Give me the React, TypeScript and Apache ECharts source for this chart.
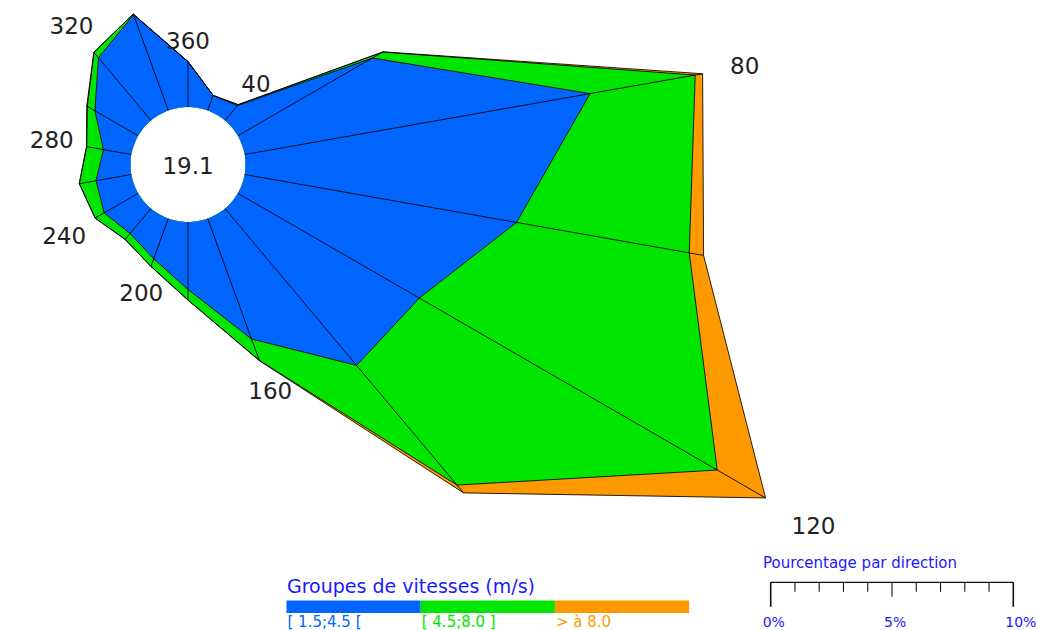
import React, { useEffect, useRef } from "react";
import * as echarts from "echarts";

// Wind directions (degrees, clockwise from north)
const directions = [0, 20, 40, 60, 80, 100, 120, 140, 160, 180, 200, 220, 240, 260, 280, 300, 320, 340];
// Percentage per direction for each speed group
const lowSpeed = [1.87, 0.66, 0.8, 6.41, 14.46, 11.38, 8.64, 8.44, 5.28, 2.78, 1.76, 1.34, 1.62, 1.48, 1.17, 2.06, 3.37, 4.2];
const midSpeed = [0, 0, 0.05, 0.49, 4.4, 7.23, 14.18, 6.44, 0.94, 0.44, 0.34, 0.32, 0.43, 0.7, 0.7, 0.36, 0.29, 0.03];
const highSpeed = [0, 0, 0, 0.02, 0.31, 0.6, 2.3, 0.42, 0.02, 0, 0, 0, 0, 0, 0.01, 0.03, 0.01, 0];
const speedGroups = ["[ 1.5;4.5 [", "[ 4.5;8.0 ]", "> à 8.0"];
const groupColors = ["#0066FF", "#00E600", "#FF9900"];
const directionLabels = [360, 40, 80, 120, 160, 200, 240, 280, 320];
const calmValue = "19.1";
const scaleLabels = [0, 5, 10];

const CX = 188;
const CY = 164.5;
const HOLE_R = 57.5;
const PX_PER_PCT = 24.26;
const R_MAX = 28;
const FONT = "DejaVu Sans";

export default function App() {
  const ref = useRef<HTMLDivElement>(null);

  useEffect(() => {
    const chart = echarts.init(ref.current!, null, { renderer: "svg" });

    const cumLow = lowSpeed.slice();
    const cumMid = lowSpeed.map((v, i) => v + midSpeed[i]);
    const cumAll = cumMid.map((v, i) => v + highSpeed[i]);
    const closed = (arr: number[]) => [
      ...directions.map((d, i) => [arr[i], d]),
      [arr[0], 360],
    ];

    const areaSeries = (name: string, arr: number[], color: string) => ({
      type: "line",
      name,
      coordinateSystem: "polar",
      data: closed(arr),
      symbol: "none",
      showSymbol: false,
      smooth: false,
      z: 2,
      lineStyle: { color: "#000", width: 1, opacity: 0.85 },
      areaStyle: { color, opacity: 1 },
      silent: true,
    });

    // legend graphics
    const barX = 286.5;
    const barW = 134.2;
    const barY = 600.5;
    const legendEls: any[] = [
      {
        type: "text",
        x: 287,
        y: 585.5,
        style: {
          text: "Groupes de vitesses (m/s)",
          fill: "#1a1aff",
          font: `19px '${FONT}'`,
          align: "left",
          verticalAlign: "middle",
        },
      },
    ];
    speedGroups.forEach((g, i) => {
      legendEls.push({
        type: "rect",
        shape: { x: barX + i * barW, y: barY, width: barW, height: 12.5 },
        style: { fill: groupColors[i] },
      });
      legendEls.push({
        type: "text",
        x: barX + i * barW + 1,
        y: 622,
        style: {
          text: g,
          fill: groupColors[i],
          font: `15px '${FONT}'`,
          align: "left",
          verticalAlign: "middle",
        },
      });
    });

    // percentage scale
    const sx0 = 770.7;
    const sy = 582.3;
    const scaleEls: any[] = [
      {
        type: "text",
        x: 763,
        y: 563,
        style: {
          text: "Pourcentage par direction",
          fill: "#1a1aff",
          font: `15px '${FONT}'`,
          align: "left",
          verticalAlign: "middle",
        },
      },
      {
        type: "line",
        shape: { x1: sx0, y1: sy, x2: sx0 + 10 * PX_PER_PCT, y2: sy },
        style: { stroke: "#111", lineWidth: 1.2 },
      },
    ];
    for (let i = 0; i <= 10; i++) {
      const x = sx0 + i * PX_PER_PCT;
      const len = i === 0 || i === 10 ? 24.5 : i === 5 ? 14.5 : 9.5;
      scaleEls.push({
        type: "line",
        shape: { x1: x, y1: sy, x2: x, y2: sy + len },
        style: { stroke: "#111", lineWidth: i === 0 || i === 10 ? 1.6 : 1.1 },
      });
    }
    scaleLabels.forEach((v) => {
      scaleEls.push({
        type: "text",
        x: sx0 + v * PX_PER_PCT - 8,
        y: 622,
        style: {
          text: `${v}%`,
          fill: "#1a1aff",
          font: `14px '${FONT}'`,
          align: "left",
          verticalAlign: "middle",
        },
      });
    });

    const option: any = {
      animation: false,
      polar: {
        center: [CX, CY],
        radius: [HOLE_R, HOLE_R + R_MAX * PX_PER_PCT],
      },
      angleAxis: {
        type: "value",
        min: 0,
        max: 360,
        startAngle: 90,
        clockwise: true,
        show: false,
      },
      radiusAxis: {
        type: "value",
        min: 0,
        max: R_MAX,
        show: false,
      },
      series: [
        areaSeries("> à 8.0", cumAll, groupColors[2]),
        areaSeries("[ 4.5;8.0 ]", cumMid, groupColors[1]),
        areaSeries("[ 1.5;4.5 [", cumLow, groupColors[0]),
        {
          type: "custom",
          coordinateSystem: "polar",
          silent: true,
          z: 5,
          data: directions.map((d, i) => [cumAll[i], d]),
          renderItem: (params: any, api: any) => {
            const r = api.value(0);
            const a = api.value(1);
            const p0 = api.coord([0, a]);
            const p1 = api.coord([r, a]);
            return {
              type: "line",
              z2: 20,
              shape: { x1: p0[0], y1: p0[1], x2: p1[0], y2: p1[1] },
              style: { stroke: "#000", lineWidth: 1, opacity: 0.9 },
            };
          },
        },
        {
          type: "custom",
          coordinateSystem: "polar",
          silent: true,
          z: 5,
          data: directionLabels.map((l) => {
            const a = l % 360;
            return [cumAll[directions.indexOf(a)], a];
          }),
          renderItem: (params: any, api: any) => {
            const r = api.value(0);
            const a = api.value(1);
            const text = String(directionLabels[params.dataIndex]);
            const p0 = api.coord([0, a]);
            const p1 = api.coord([r, a]);
            const cx = params.coordSys && params.coordSys.cx != null ? params.coordSys.cx : CX;
            const cy = params.coordSys && params.coordSys.cy != null ? params.coordSys.cy : CY;
            const dx = p1[0] - p0[0];
            const dy = p1[1] - p0[1];
            const len = Math.hypot(dx, dy) || 1;
            const ux = dx / len;
            const uy = dy / len;
            const rPx = Math.hypot(p1[0] - cx, p1[1] - cy);
            const fs = 23;
            const w = text.length * 0.636 * fs;
            const h = 18;
            const gap = 8.5 + 0.035 * rPx;
            const off = gap + (Math.abs(ux) * w) / 2 + (Math.abs(uy) * h) / 2;
            return {
              type: "text",
              x: p1[0] + ux * off,
              y: p1[1] + uy * off,
              style: {
                text,
                fill: "#222",
                font: `${fs}px '${FONT}'`,
                align: "center",
                verticalAlign: "middle",
              },
            };
          },
        },
      ],
      graphic: [
        {
          type: "text",
          x: CX,
          y: CY + 1,
          z: 100,
          style: {
            text: calmValue,
            fill: "#222",
            font: `23px '${FONT}'`,
            align: "center",
            verticalAlign: "middle",
          },
        },
        ...legendEls,
        ...scaleEls,
      ],
    };

    chart.setOption(option);
    return () => chart.dispose();
  }, []);

  return (
    <div
      ref={ref}
      style={{ position: "fixed", left: 0, top: 0, width: 1037, height: 630, background: "#fff" }}
    />
  );
}
